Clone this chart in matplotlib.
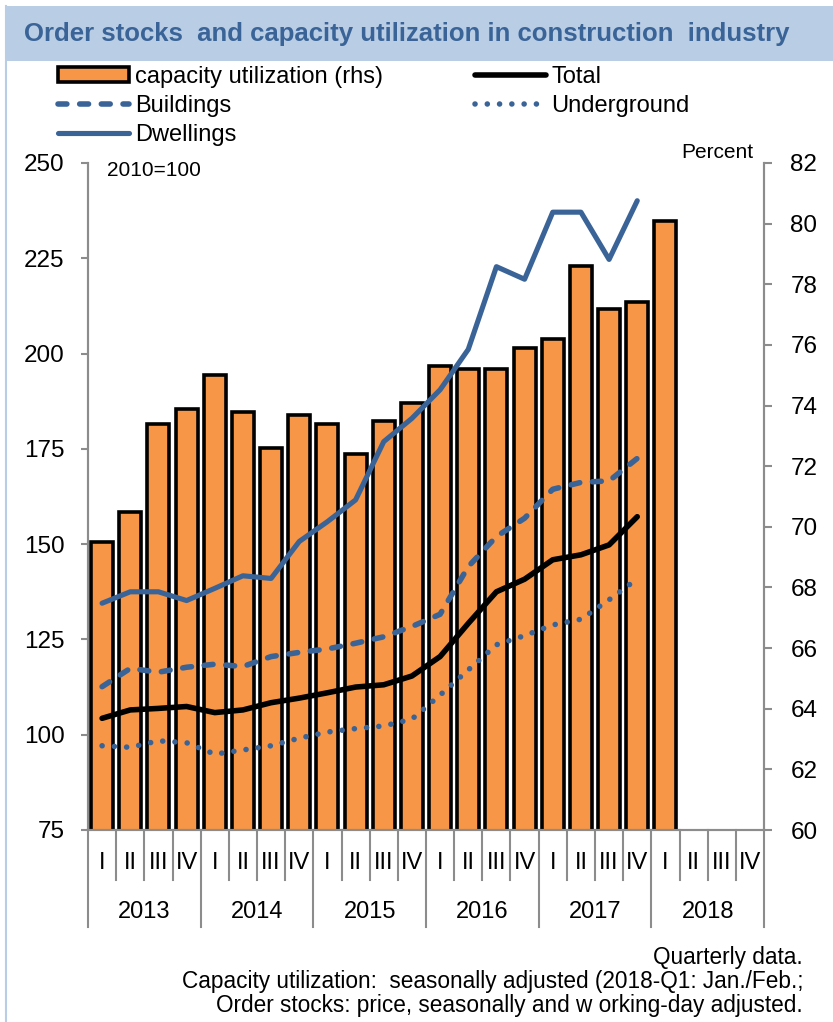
import matplotlib
matplotlib.use('Agg')
import matplotlib.pyplot as plt
from matplotlib.patches import Rectangle, Patch
from matplotlib.lines import Line2D
import matplotlib.transforms as mtransforms

# data
years = ['2013', '2014', '2015', '2016', '2017', '2018']
quarters = ['I', 'II', 'III', 'IV']

# capacity utilization, percent (rhs), 2013-Q1 .. 2018-Q1
capacity = [69.5, 70.5, 73.4, 73.9, 75.0, 73.8, 72.6, 73.7, 73.4, 72.4, 73.5,
            74.1, 75.3, 75.2, 75.2, 75.9, 76.2, 78.6, 77.2, 77.4, 80.1]

# order stocks, 2010=100, 2013-Q1 .. 2017-Q4
total = [104.3, 106.5, 106.9, 107.4, 105.8, 106.5, 108.4, 109.6, 111.0, 112.5,
         113.1, 115.4, 120.5, 129.2, 137.5, 140.8, 145.9, 147.2, 149.8, 157.2]
buildings = [112.6, 117.4, 116.4, 117.7, 118.5, 117.9, 120.5, 121.6, 122.5, 124.0,
             125.7, 128.4, 131.6, 144.1, 152.0, 156.8, 164.4, 166.2, 166.6, 172.5]
dwellings = [134.5, 137.5, 137.5, 135.2, 138.4, 141.7, 141.0, 150.7, 155.9, 161.6,
             176.9, 183.0, 190.5, 201.1, 222.8, 219.5, 237.1, 237.1, 224.7, 240.1]
underground = [97.1, 96.7, 98.4, 97.9, 94.9, 96.0, 97.1, 99.1, 100.7, 101.6,
               102.3, 104.1, 110.4, 117.0, 123.6, 126.0, 128.8, 130.3, 135.4, 140.9]

ORANGE = '#F79646'
BLUE = '#3A6497'
GREY = '#8C8C8C'
W, H = 833, 1022

plt.rcParams['font.family'] = ['Liberation Sans', 'DejaVu Sans']

# line styles shared by plot and legend
st_dwell = dict(color=BLUE, lw=3.7, solid_joinstyle='round', solid_capstyle='round')
st_build = dict(color=BLUE, lw=4.0, linestyle=(0, (1.6, 2.3)), dash_capstyle='round')
st_total = dict(color='black', lw=4.0, solid_joinstyle='round', solid_capstyle='round')
st_under = dict(color=BLUE, lw=4.0, linestyle=(0, (0.01, 2.2)), dash_capstyle='round')

fig = plt.figure(figsize=(W / 100, H / 100), dpi=100)

# title band and left border
fig.patches.append(Rectangle((6 / W, 1 - 61 / H), 1, 55 / H, transform=fig.transFigure,
                             facecolor='#B9CDE5', edgecolor='none', zorder=0))
fig.lines.append(Line2D([6 / W, 6 / W], [0, 1 - 6 / H], transform=fig.transFigure,
                        color='#B9CDE5', lw=1.5))
fig.text(24 / W, 1 - 34 / H, 'Order stocks  and capacity utilization in construction  industry',
         fontsize=18.5, fontweight='bold', color=BLUE, va='center', ha='left')

ax = fig.add_axes([88 / W, 1 - 830 / H, (764 - 88) / W, (830 - 163) / H])
ax2 = ax.twinx()
ax.set_zorder(2)
ax2.set_zorder(1)
ax.patch.set_visible(False)

n_slots = len(years) * 4
x_bar = list(range(len(capacity)))
x_line = list(range(len(total)))

ax2.bar(x_bar, capacity, width=0.78, color=ORANGE, edgecolor='black', linewidth=2.6)

ax.plot(x_line, dwellings, **st_dwell)
ax.plot(x_line, buildings, **st_build)
ax.plot(x_line, total, **st_total)
ax.plot(x_line, underground, **st_under)

ax.set_xlim(-0.5, n_slots - 0.5)
ax.set_ylim(75, 250)
ax.set_yticks(range(75, 251, 25))
ax2.set_ylim(60, 82)
ax2.set_yticks(range(60, 83, 2))
ax.set_xticks([])

for a in (ax, ax2):
    for s in a.spines.values():
        s.set_color(GREY)
        s.set_linewidth(1.5)
    a.spines['top'].set_visible(False)
ax.tick_params(axis='y', length=5, width=1.5, color=GREY, pad=12, labelsize=17.5)
ax2.tick_params(axis='y', length=6, width=1.5, color=GREY, pad=13, labelsize=17.5)

# category axis: quarter and year separators below the plot
trans = mtransforms.blended_transform_factory(ax.transData, ax.transAxes)
h_ax = 830 - 163
for k in range(n_slots + 1):
    xb = k - 0.5
    depth = 97 if k % 4 == 0 else 50
    ax.plot([xb, xb], [0, -depth / h_ax], transform=trans, color=GREY, lw=1.5,
            clip_on=False)
for k in range(n_slots):
    ax.text(k, -33 / h_ax, quarters[k % 4], transform=trans, ha='center', va='center',
            fontsize=17)
for j, yr in enumerate(years):
    ax.text(4 * j + 1.5, -82 / h_ax, yr, transform=trans, ha='center', va='center',
            fontsize=17)

fig.text(107 / W, 1 - 170 / H, '2010=100', fontsize=15, va='center', ha='left')
fig.text(753 / W, 1 - 153 / H, 'Percent', fontsize=15, va='center', ha='right')

handles = [
    Patch(facecolor=ORANGE, edgecolor='black', linewidth=2.6),
    Line2D([], [], **st_build),
    Line2D([], [], **st_dwell),
    Line2D([], [], **st_total),
    Line2D([], [], **st_under),
]
labels = ['capacity utilization (rhs)', 'Buildings', 'Dwellings', 'Total', 'Underground']
fig.legend(handles, labels, ncol=2, loc='upper left', bbox_to_anchor=(58 / W, 1 - 66 / H),
           frameon=False, fontsize=17, handlelength=3.0, handleheight=0.6,
           handletextpad=0.25, columnspacing=3.9, labelspacing=0.3, borderpad=0,
           borderaxespad=0)

notes = ['Quarterly data.',
         'Capacity utilization:  seasonally adjusted (2018-Q1: Jan./Feb.;',
         'Order stocks: price, seasonally and w orking-day adjusted.']
for i, t in enumerate(notes):
    fig.text(803 / W, 1 - (957 + 24 * i) / H, t, fontsize=16.3, ha='right', va='center')

fig.savefig('out.png', dpi=100)
